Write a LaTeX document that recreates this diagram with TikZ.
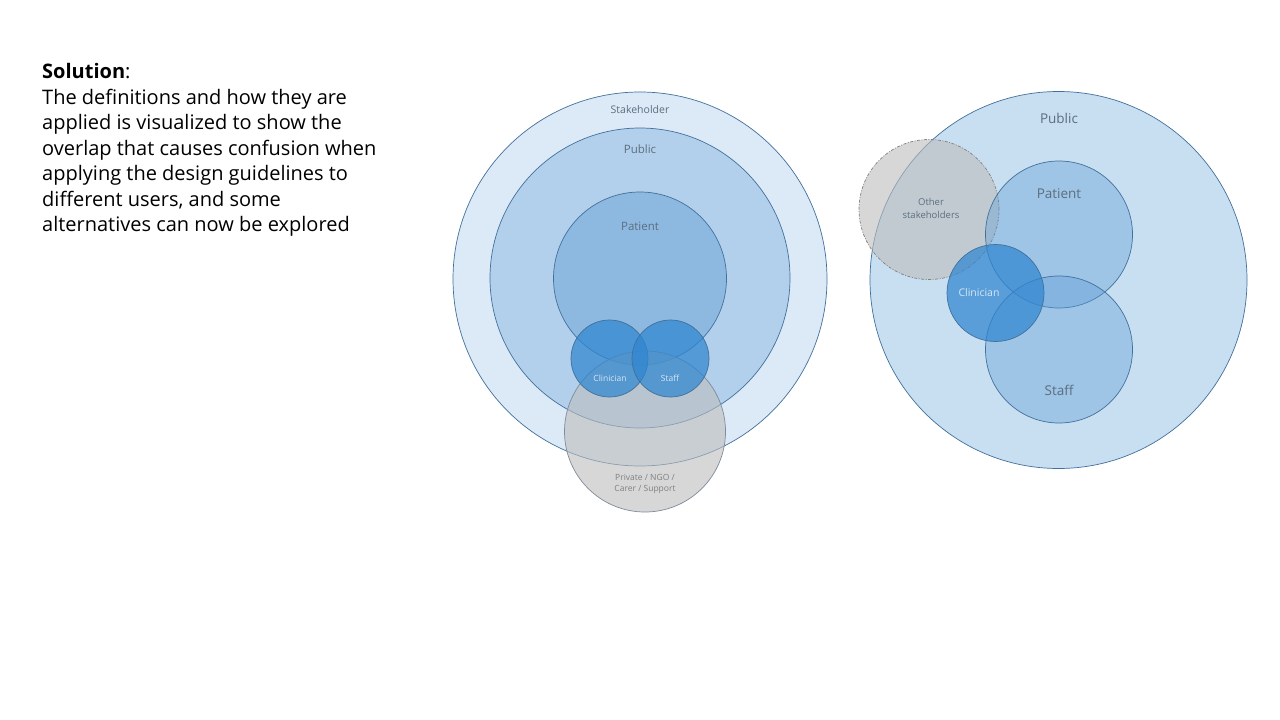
\documentclass[tikz,border=0pt]{standalone}
\usepackage{fontspec}
\setmainfont{Open Sans}
\definecolor{bbase}{HTML}{5B9BD5}
\definecolor{cbase}{HTML}{2F86D0}
\definecolor{edge}{HTML}{41719C}
\definecolor{gbase}{HTML}{BDBDBD}
\definecolor{gedge}{HTML}{7F8C99}
\definecolor{lbl}{HTML}{5C6E80}
\definecolor{lbllight}{HTML}{D6E6F5}
\begin{document}
\begin{tikzpicture}[x=1pt,y=-1pt,
  circ/.style={circle,inner sep=0pt,minimum size=#1,draw=edge,line width=0.7pt},
  lab/.style={text=lbl,inner sep=0pt,font=\fontsize{#1}{#1}\selectfont},
  wlab/.style={text=lbllight,inner sep=0pt,font=\fontsize{#1}{#1}\selectfont},
  body/.style={anchor=base west,inner sep=0pt,font=\fontsize{20}{25}\selectfont,text=black}]
\useasboundingbox (0,0) rectangle (1280,720);
\fill[white] (0,0) rectangle (1280,720);
% text
\node[body] (t0) at (42,78.5) {\textbf{Solution}:};
\node[body] (t1) at (42,104) {The definitions and how they are};
\node[body] (t2) at (42,129.5) {applied is visualized to show the};
\node[body] (t3) at (42,155) {overlap that causes confusion when};
\node[body] (t4) at (42,180.5) {applying the design guidelines to};
\node[body] (t5) at (42,206) {different users, and some};
\node[body] (t6) at (42,231.5) {alternatives can now be explored};
% left diagram
\node[circ=374pt,fill=bbase,fill opacity=0.21] (stake) at (640,279) {};
\node[circ=300pt,fill=bbase,fill opacity=0.32] (pub) at (640,278) {};
\node[circ=173pt,fill=bbase,fill opacity=0.42] (pat) at (640,278.5) {};
\node[circ=161pt,fill=gbase,fill opacity=0.6,draw=gedge] (priv) at (645,431.5) {};
\node[circ=77pt,fill=cbase,fill opacity=0.72] (clin) at (609.5,358.5) {};
\node[circ=77pt,fill=cbase,fill opacity=0.72] (staff) at (670.5,358.5) {};
\node[lab=10.5] (stakel) at (640,110) {Stakeholder};
\node[lab=11.5] (publ) at (640,149.5) {Public};
\node[lab=11.5] (patl) at (640,226.5) {Patient};
\node[wlab=8.5] (clinl) at (610,378.5) {Clinician};
\node[wlab=8.5] (staffl) at (670,378.5) {Staff};
\node[text=gray,inner sep=0pt,font=\fontsize{8.5}{11}\selectfont,align=center] (privl) at (645,483.5) {Private / NGO /\\Carer / Support};
% right diagram
\node[circ=377pt,fill=bbase,fill opacity=0.33] (rpub) at (1058.5,280) {};
\node[circ=140pt,fill=gbase,fill opacity=0.6,draw=gray,dash pattern=on 3pt off 1.5pt on 1pt off 1.5pt] (other) at (929,209.5) {};
\node[circ=147pt,fill=bbase,fill opacity=0.38] (rpat) at (1059,234.5) {};
\node[circ=147pt,fill=bbase,fill opacity=0.38] (rstaff) at (1059,349.5) {};
\node[circ=97pt,fill=cbase,fill opacity=0.72] (rclin) at (995.5,293) {};
\node[lab=13.5] (rpubl) at (1059,118.5) {Public};
\node[lab=13.5] (rpatl) at (1059,194) {Patient};
\node[lab=13.5] (rstaffl) at (1059,390.5) {Staff};
\node[wlab=10.5] (rclinl) at (979,293) {Clinician};
\node[text=lbl,inner sep=0pt,font=\fontsize{9.5}{13}\selectfont,align=center] (otherl) at (931,208.5) {Other\\stakeholders};
\end{tikzpicture}
\end{document}
